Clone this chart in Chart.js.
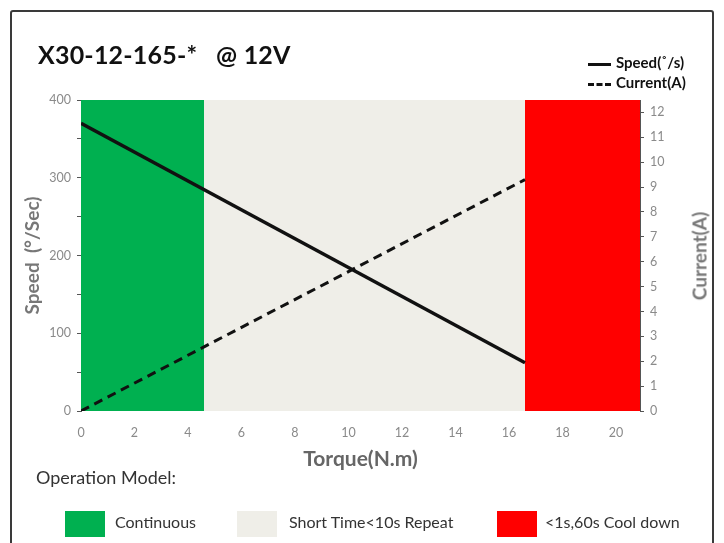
<!DOCTYPE html>
<html>
<head>
<meta charset="utf-8">
<script src="https://cdn.jsdelivr.net/npm/chart.js@4"></script>
<style>
  body { margin: 0; background: #fff; font-family: Lato, "Open Sans", sans-serif; }
  #wrap { position: relative; width: 724px; height: 543px; overflow: hidden; }
  #frame { position: absolute; left: 10px; top: 10px; width: 700px; height: 560px; border: 2px solid #3a3a3a; border-radius: 3px; }
  canvas { position: absolute; left: 0; top: 0; }
  .title { position: absolute; left: 38px; top: 39px; font-size: 25px; font-weight: bold; color: #111; white-space: pre; letter-spacing: 0.2px; }
  .leg { position: absolute; left: 588px; font-size: 15px; font-weight: bold; color: #111; }
  .leg span.ln { display: inline-block; width: 23px; height: 0; border-top: 3px solid #111; vertical-align: middle; margin-right: 5px; }
  .leg span.dash { border-top-style: dashed; }
  .rtitle { position: absolute; left: 699px; top: 256px; transform: translate(-50%, -50%) rotate(-90deg); font-size: 19px; font-weight: bold; color: #777; white-space: nowrap; }
  .op { position: absolute; left: 36px; top: 466px; font-size: 18px; color: #333; }
  .box { position: absolute; top: 511px; width: 40px; height: 26px; }
  .lab { position: absolute; top: 512px; font-size: 16px; color: #333; }
</style>
</head>
<body>
<div id="wrap">
  <div id="frame"></div>
  <canvas id="grafico" width="724" height="543"></canvas>
  <div class="title">X30-12-165-*   @ 12V</div>
  <div class="leg" style="top:53px"><span class="ln"></span>Speed(˚/s)</div>
  <div class="leg" style="top:73px"><span class="ln dash"></span>Current(A)</div>
  <div class="rtitle">Current(A)</div>
  <div class="op">Operation Model:</div>
  <div class="box" style="left:65px;background:#00b050"></div>
  <div class="lab" style="left:115px">Continuous</div>
  <div class="box" style="left:237px;background:#efeee8"></div>
  <div class="lab" style="left:289px">Short Time&lt;10s Repeat</div>
  <div class="box" style="left:497px;background:#ff0000"></div>
  <div class="lab" style="left:545px">&lt;1s,60s Cool down</div>
</div>
<script>
// data
const torque = [0, 16.6];
const speed = [370, 62];
const current = [0, 9.3];

// operating zones (torque bounds)
const zoneStart = [0, 4.6, 16.6];
const zoneEnd = [4.6, 16.6, 20.9];
const zoneColors = ['#00b050', '#efeee8', '#ff0000'];
const zoneNames = ['Continuous', 'Short Time<10s Repeat', '<1s,60s Cool down'];

const torqueTicks = [0, 2, 4, 6, 8, 10, 12, 14, 16, 18, 20];
const speedMax = 400;
const currentMax = 12.5;
const torqueMax = 20.9;

const zoneSets = zoneStart.map((s, i) => ({
    label: zoneNames[i],
    data: [{ x: s, y: speedMax }, { x: zoneEnd[i], y: speedMax }],
    yAxisID: 'y',
    borderWidth: 0,
    pointRadius: 0,
    backgroundColor: zoneColors[i],
    fill: 'origin',
    order: 10
}));

const tickFont = { family: 'Lato', size: 12.5 };

new Chart(document.getElementById('grafico'), {
    type: 'line',
    data: {
        datasets: [
            ...zoneSets,
            {
                label: 'Speed(˚/s)',
                data: torque.map((t, i) => ({ x: t, y: speed[i] })),
                yAxisID: 'y',
                borderColor: '#111',
                borderWidth: 3.5,
                pointRadius: 0,
                order: 1
            },
            {
                label: 'Current(A)',
                data: torque.map((t, i) => ({ x: t, y: current[i] })),
                yAxisID: 'y1',
                borderColor: '#111',
                borderWidth: 3,
                borderDash: [9, 6],
                pointRadius: 0,
                order: 1
            }
        ]
    },
    options: {
        responsive: false,
        animation: false,
        layout: { padding: { top: 100, left: 19, right: 10, bottom: 67 } },
        plugins: { legend: { display: false }, tooltip: { enabled: false } },
        scales: {
            x: {
                type: 'linear',
                min: 0,
                max: torqueMax,
                afterBuildTicks: s => { s.ticks = torqueTicks.map(v => ({ value: v })); },
                afterFit: s => { s.height = 65; },
                ticks: { color: '#8a8a8a', font: tickFont, maxRotation: 0, padding: 6 },
                grid: { display: false },
                border: { display: false },
                title: { display: true, text: 'Torque(N.m)', color: '#666', font: { family: 'Lato', size: 21, weight: 'bold' }, padding: { top: 6 } }
            },
            y: {
                position: 'left',
                min: 0,
                max: speedMax,
                afterFit: s => { s.width = 62; },
                ticks: { stepSize: 50, color: '#8a8a8a', font: tickFont, padding: 6,
                    callback: v => v % 100 === 0 ? v : '' },
                grid: { drawOnChartArea: false, tickLength: 4, color: '#555' },
                border: { color: '#555', width: 1 },
                title: { display: true, text: 'Speed  (°/Sec)', color: '#777', font: { family: 'Lato', size: 19, weight: 'bold' }, padding: 2 }
            },
            y1: {
                position: 'right',
                min: 0,
                max: currentMax,
                afterFit: s => { s.width = 74; },
                ticks: { stepSize: 0.5, color: '#8a8a8a', font: tickFont, padding: 6,
                    callback: v => Number.isInteger(v) ? v : '' },
                grid: { drawOnChartArea: false, tickLength: 4, color: '#555' },
                border: { color: '#555', width: 1 }
            }
        }
    }
});
</script>
</body>
</html>
